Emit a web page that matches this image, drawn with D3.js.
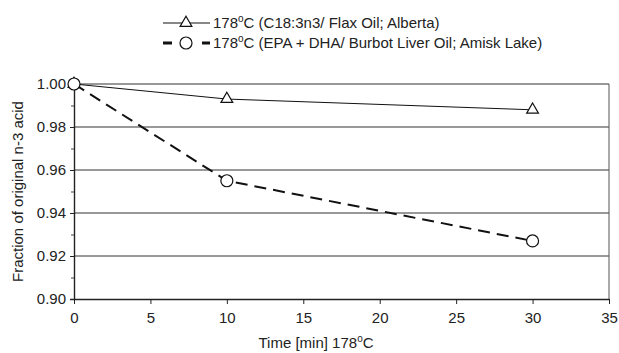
<!DOCTYPE html>
<html>
<head>
<meta charset="utf-8">
<script src="https://cdn.jsdelivr.net/npm/d3@7"></script>
<style>
  body { margin: 0; background: #fff; }
  text { font-family: Arial, "Liberation Sans", sans-serif; fill: #222; }
</style>
</head>
<body>
<div id="chart"></div>
<script>
const times = [0, 10, 30];
const flaxValues = [1.000, 0.993, 0.988];
const burbotValues = [1.000, 0.955, 0.927];
const xTicks = [0, 5, 10, 15, 20, 25, 30, 35];
const yTicks = [0.90, 0.92, 0.94, 0.96, 0.98, 1.00];
const yMinorTicks = [0.91, 0.93, 0.95, 0.97, 0.99];
const legendLabels = ["(C18:3n3/ Flax Oil; Alberta)", "(EPA + DHA/ Burbot Liver Oil; Amisk Lake)"];

const width = 619, height = 353;
const margin = {top: 84, right: 10, bottom: 54, left: 74};

const svg = d3.select("#chart").append("svg")
  .attr("width", width)
  .attr("height", height);

const x = d3.scaleLinear()
  .domain([0, 35])
  .range([margin.left, width - margin.right]);

const y = d3.scaleLinear()
  .domain([0.9, 1.0])
  .range([height - margin.bottom, margin.top]);

// gridlines
svg.append("g")
  .selectAll("line")
  .data(yTicks.slice(1))
  .join("line")
  .attr("x1", x(0))
  .attr("x2", x(35))
  .attr("y1", d => y(d))
  .attr("y2", d => y(d))
  .attr("stroke", "#333")
  .attr("stroke-width", 1);

// right border
svg.append("line")
  .attr("x1", x(35)).attr("x2", x(35))
  .attr("y1", y(1.0)).attr("y2", y(0.9))
  .attr("stroke", "#555");

// y axis
const yAxis = g => g
  .attr("transform", `translate(${x(0)},0)`)
  .call(d3.axisLeft(y).tickValues(yTicks).tickSize(4).tickPadding(4)
    .tickFormat(d3.format(".2f")))
  .call(g => g.select(".domain").attr("stroke", "#222").attr("stroke-width", 1.4))
  .call(g => g.selectAll(".tick line").attr("stroke", "#222"))
  .call(g => g.selectAll(".tick text").style("font", "15px Arial, 'Liberation Sans', sans-serif").attr("fill", "#222"));

svg.append("g").call(yAxis);

svg.append("g")
  .attr("transform", `translate(${x(0)},0)`)
  .call(d3.axisLeft(y).tickValues(yMinorTicks).tickSize(3).tickFormat(""))
  .call(g => g.select(".domain").remove())
  .call(g => g.selectAll(".tick line").attr("stroke", "#444"));

// x axis
const xAxis = g => g
  .attr("transform", `translate(0,${y(0.9)})`)
  .call(d3.axisBottom(x).tickValues(xTicks).tickSize(5).tickPadding(8).tickSizeOuter(0))
  .call(g => g.select(".domain").attr("stroke", "#222").attr("stroke-width", 1.4))
  .call(g => g.selectAll(".tick line").attr("stroke", "#222"))
  .call(g => g.selectAll(".tick text").style("font", "15px Arial, 'Liberation Sans', sans-serif").attr("fill", "#222"));

svg.append("g").call(xAxis);

// axis titles
const xTitle = svg.append("text")
  .attr("x", 316)
  .attr("y", 348)
  .attr("text-anchor", "middle")
  .style("font-size", "15px")
  .text("Time [min] 178");
xTitle.append("tspan").attr("dy", -6).style("font-size", "10px").text("o");
xTitle.append("tspan").attr("dy", 6).text("C");

svg.append("text")
  .attr("transform", `translate(23,${(y(0.9) + y(1.0)) / 2}) rotate(-90)`)
  .attr("text-anchor", "middle")
  .style("font-size", "15px")
  .text("Fraction of original n-3 acid");

// series
const flax = times.map((t, i) => ({t, v: flaxValues[i]}));
const burbot = times.map((t, i) => ({t, v: burbotValues[i]}));

const line = d3.line().x(d => x(d.t)).y(d => y(d.v));

svg.append("path")
  .datum(burbot)
  .attr("fill", "none")
  .attr("stroke", "#111")
  .attr("stroke-width", 2)
  .attr("stroke-dasharray", "12,7")
  .attr("d", line);

svg.append("path")
  .datum(flax)
  .attr("fill", "none")
  .attr("stroke", "#111")
  .attr("stroke-width", 1)
  .attr("d", line);

const tri = d3.symbol().type(d3.symbolTriangle).size(60);

svg.append("g")
  .selectAll("path")
  .data(flax)
  .join("path")
  .attr("transform", d => `translate(${x(d.t)},${y(d.v)})`)
  .attr("d", tri)
  .attr("fill", "#fff")
  .attr("stroke", "#111")
  .attr("stroke-width", 1.2);

svg.append("g")
  .selectAll("circle")
  .data(burbot)
  .join("circle")
  .attr("cx", d => x(d.t))
  .attr("cy", d => y(d.v))
  .attr("r", 6)
  .attr("fill", "#fff")
  .attr("stroke", "#111")
  .attr("stroke-width", 1.2);

// legend
const legend = svg.append("g");
const lx = 163, ly = [23, 43];

legend.append("line")
  .attr("x1", lx).attr("x2", lx + 47)
  .attr("y1", ly[0]).attr("y2", ly[0])
  .attr("stroke", "#111");
legend.append("path")
  .attr("transform", `translate(${lx + 23},${ly[0]})`)
  .attr("d", tri)
  .attr("fill", "#fff")
  .attr("stroke", "#111")
  .attr("stroke-width", 1.2);

legend.append("line")
  .attr("x1", lx).attr("x2", lx + 47)
  .attr("y1", ly[1]).attr("y2", ly[1])
  .attr("stroke", "#111")
  .attr("stroke-width", 3)
  .attr("stroke-dasharray", "9,30,9");
legend.append("circle")
  .attr("cx", lx + 23).attr("cy", ly[1])
  .attr("r", 6)
  .attr("fill", "#fff")
  .attr("stroke", "#111")
  .attr("stroke-width", 1.2);

legendLabels.forEach((lab, i) => {
  const t = legend.append("text")
    .attr("x", lx + 50)
    .attr("y", ly[i] + 5)
    .style("font-size", "15px")
    .text("178");
  t.append("tspan").attr("dy", -6).style("font-size", "10px").text("o");
  t.append("tspan").attr("dy", 6).text("C " + lab);
});
</script>
</body>
</html>
